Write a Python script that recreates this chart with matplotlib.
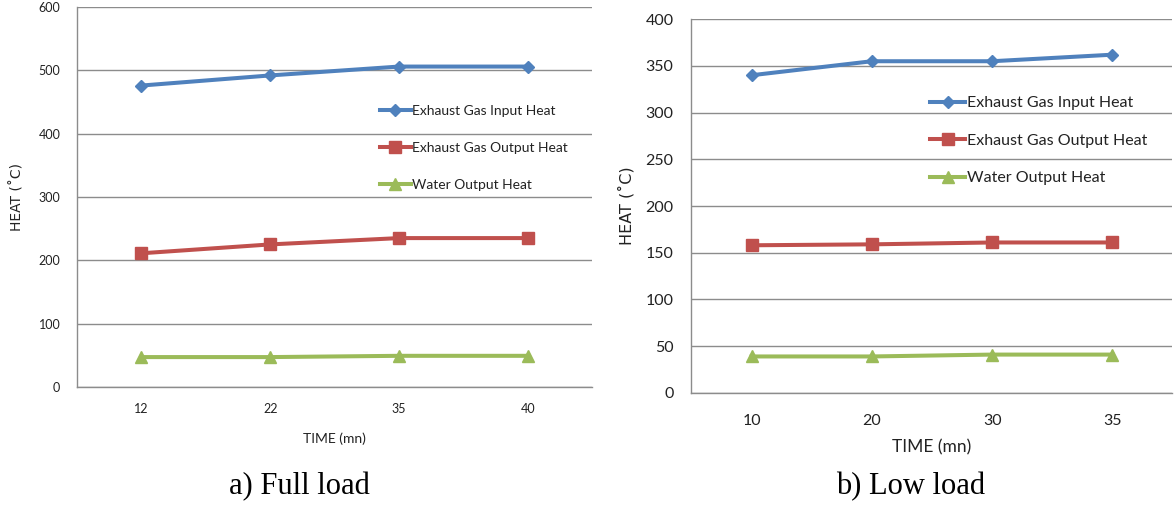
import numpy as np
import matplotlib.pyplot as plt

# data
full_time = ["12", "22", "35", "40"]
full_input = [476, 492, 506, 506]
full_output = [211, 225, 235, 235]
full_water = [47, 47, 49, 49]

low_time = ["10", "20", "30", "35"]
low_input = [340, 355, 355, 362]
low_output = [158, 159, 161, 161]
low_water = [39, 39, 41, 41]

labels = ["Exhaust Gas Input Heat", "Exhaust Gas Output Heat", "Water Output Heat"]
colors = ["#4F81BD", "#C0504D", "#9BBB59"]
markers = ["D", "s", "^"]
msizes = [6, 9, 8]

fig = plt.figure(figsize=(11.76, 5.05), dpi=100)
axL = fig.add_axes([0.0655, 0.234, 0.438, 0.752])
axR = fig.add_axes([0.588, 0.222, 0.409, 0.740])

def draw(ax, cats, series, ymax, ystep, font, fs, lfs, leg_anchor, lspace, ypad, xpad):
    x = np.arange(len(cats))
    for vals, c, m, ms, lab in zip(series, colors, markers, msizes, labels):
        ax.plot(x, vals, color=c, lw=2.9, marker=m, ms=ms, mec=c, mfc=c, label=lab, zorder=3)
    ax.set_xlim(-0.5, len(cats) - 0.5)
    ax.set_ylim(0, ymax)
    ax.set_yticks(np.arange(0, ymax + 1, ystep))
    ax.set_xticks(x)
    ax.set_xticklabels(cats)
    ax.grid(axis="y", color="#8c8c8c", lw=1.0)
    ax.set_axisbelow(True)
    for s in ["top", "right"]:
        ax.spines[s].set_visible(False)
    for s in ["left", "bottom"]:
        ax.spines[s].set_color("#8c8c8c")
        ax.spines[s].set_linewidth(1.0)
    ax.tick_params(length=0, labelsize=fs, labelcolor="#222222")
    for t in ax.get_xticklabels() + ax.get_yticklabels():
        t.set_family(font)
    ax.tick_params(axis="x", pad=xpad)
    ax.tick_params(axis="y", pad=ypad)
    leg = ax.legend(loc="upper left", bbox_to_anchor=leg_anchor, frameon=False,
                    handlelength=2.2, handletextpad=0.1, labelspacing=lspace,
                    borderpad=0, prop={"family": font, "size": lfs})
    for t in leg.get_texts():
        t.set_color("#222222")

draw(axL, full_time, [full_input, full_output, full_water], 600, 100,
     "Lato", 9, 10, (0.575, 0.76), 1.8, 12, 12)
draw(axR, low_time, [low_input, low_output, low_water], 400, 50,
     "Lato", 11.5, 11.5, (0.48, 0.815), 1.45, 13, 15)

axL.set_xlabel("TIME (mn)", family="Lato", fontsize=10, color="#222222", labelpad=12)
axL.set_ylabel("HEAT (˚C)", family="DejaVu Sans", fontsize=10, color="#222222", labelpad=10)
axR.set_xlabel("TIME (mn)", family="Lato", fontsize=12.5, color="#222222", labelpad=8)
axR.set_ylabel("HEAT (˚C)", family="DejaVu Sans", fontsize=11.5, color="#222222", labelpad=8)

fig.text(0.255, 0.022, "a) Full load", family="Liberation Serif", fontsize=22, ha="center")
fig.text(0.774, 0.022, "b) Low load", family="Liberation Serif", fontsize=22, ha="center")

fig.savefig("out.png", dpi=100)
